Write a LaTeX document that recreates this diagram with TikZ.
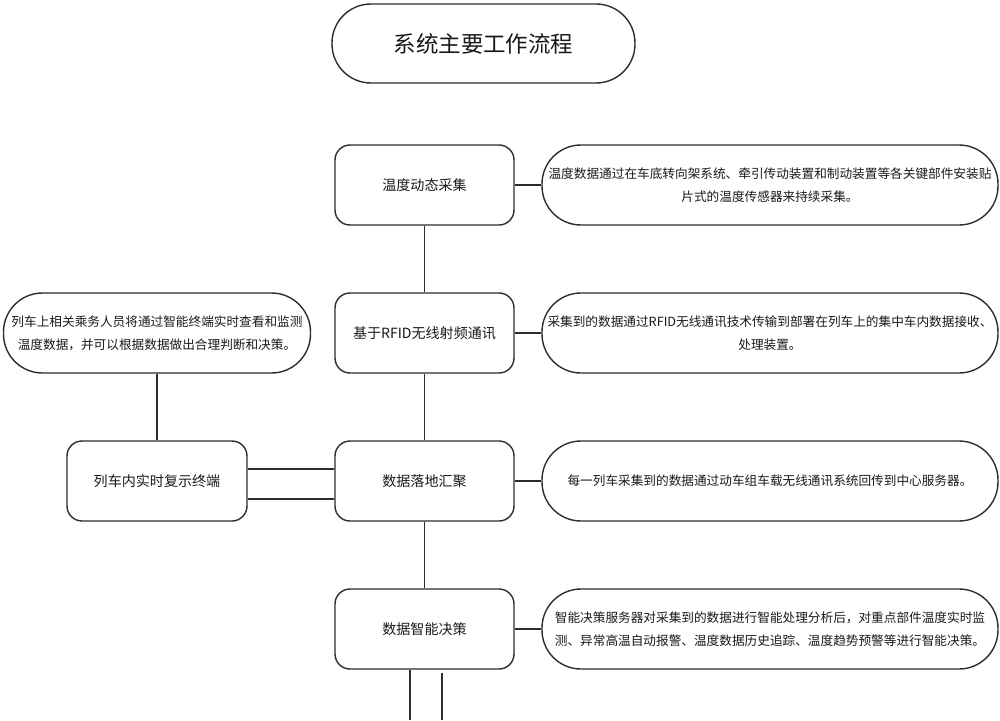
\documentclass[tikz,border=0pt]{standalone}
\usepackage{fontspec}
\newfontfamily\cjk{Noto Sans CJK SC}
\usepackage{tikz}
\usetikzlibrary{positioning}
\definecolor{FlowLine}{RGB}{45,45,45}
\definecolor{FlowText}{RGB}{25,25,25}

\begin{document}
\begin{tikzpicture}[
      titlebox/.style={rectangle, rounded corners=0.78cm, draw=FlowLine,
                       line width=0.8pt, minimum width=6.06cm, minimum height=1.58cm,
                       font=\cjk\fontsize{12.8}{15}\selectfont, text=FlowText},
      stepbox/.style={rectangle, rounded corners=0.3cm, draw=FlowLine,
                      line width=0.8pt, minimum width=3.58cm, minimum height=1.6cm,
                      font=\cjk\fontsize{8}{10}\selectfont, text=FlowText},
      descbox/.style={rectangle, rounded corners=0.78cm, draw=FlowLine,
                      line width=0.8pt, minimum width=9.12cm, minimum height=1.6cm,
                      align=center, inner sep=1pt,
                      font=\cjk\fontsize{7.2}{13}\selectfont, text=FlowText},
      link/.style={draw=FlowLine, line width=0.9pt}
    ]
    \useasboundingbox (0,0) rectangle (20,-14.4);

    % Title
    \node[titlebox] (title) at (9.67,-0.87) {系统主要工作流程};

    % Main steps
    \foreach \n/\y/\txt in {collect/-3.70/温度动态采集,
                            rfid/-6.66/基于RFID无线射频通讯,
                            gather/-9.62/数据落地汇聚,
                            decide/-12.58/数据智能决策} {
      \node[stepbox] (\n) at (8.49,\y) {\txt};
    }
    \draw[link] (collect) -- (rfid);
    \draw[link] (rfid) -- (gather);
    \draw[link] (gather) -- (decide);

    % Step descriptions
    \node[descbox] (collectNote) at (15.40,-3.70)
          {温度数据通过在车底转向架系统、牵引传动装置和制动装置等各关键部件安装贴\\片式的温度传感器来持续采集。};
    \node[descbox] (rfidNote) at (15.40,-6.66)
          {采集到的数据通过RFID无线通讯技术传输到部署在列车上的集中车内数据接收、\\处理装置。};
    \node[descbox] (gatherNote) at (15.40,-9.62)
          {每一列车采集到的数据通过动车组车载无线通讯系统回传到中心服务器。};
    \node[descbox] (decideNote) at (15.40,-12.58)
          {智能决策服务器对采集到的数据进行智能处理分析后，对重点部件温度实时监\\测、异常高温自动报警、温度数据历史追踪、温度趋势预警等进行智能决策。};
    \foreach \n in {collect, rfid, gather, decide} {
      \draw[link] (\n) -- (\n Note);
    }

    % On-board terminal
    \node[descbox, minimum width=6.14cm] (crew) at (3.14,-6.66)
          {列车上相关乘务人员将通过智能终端实时查看和监测\\温度数据，并可以根据数据做出合理判断和决策。};
    \node[stepbox, minimum width=3.6cm] (term) at (3.14,-9.62) {列车内实时复示终端};
    \draw[link] (crew) -- (term);
    \draw[link] ([yshift=0.24cm]term.east) -- ([yshift=0.24cm]gather.west);
    \draw[link] ([yshift=-0.36cm]term.east) -- ([yshift=-0.36cm]gather.west);

    % Outgoing lines
    \coordinate (tailA) at (8.20,-14.4);
    \coordinate (tailB) at (8.84,-14.4);
    \draw[link] (decide.south -| tailA) -- (tailA);
    \draw[link] ([yshift=-0.06cm]decide.south -| tailB) -- (tailB);
  \end{tikzpicture}
\end{document}
